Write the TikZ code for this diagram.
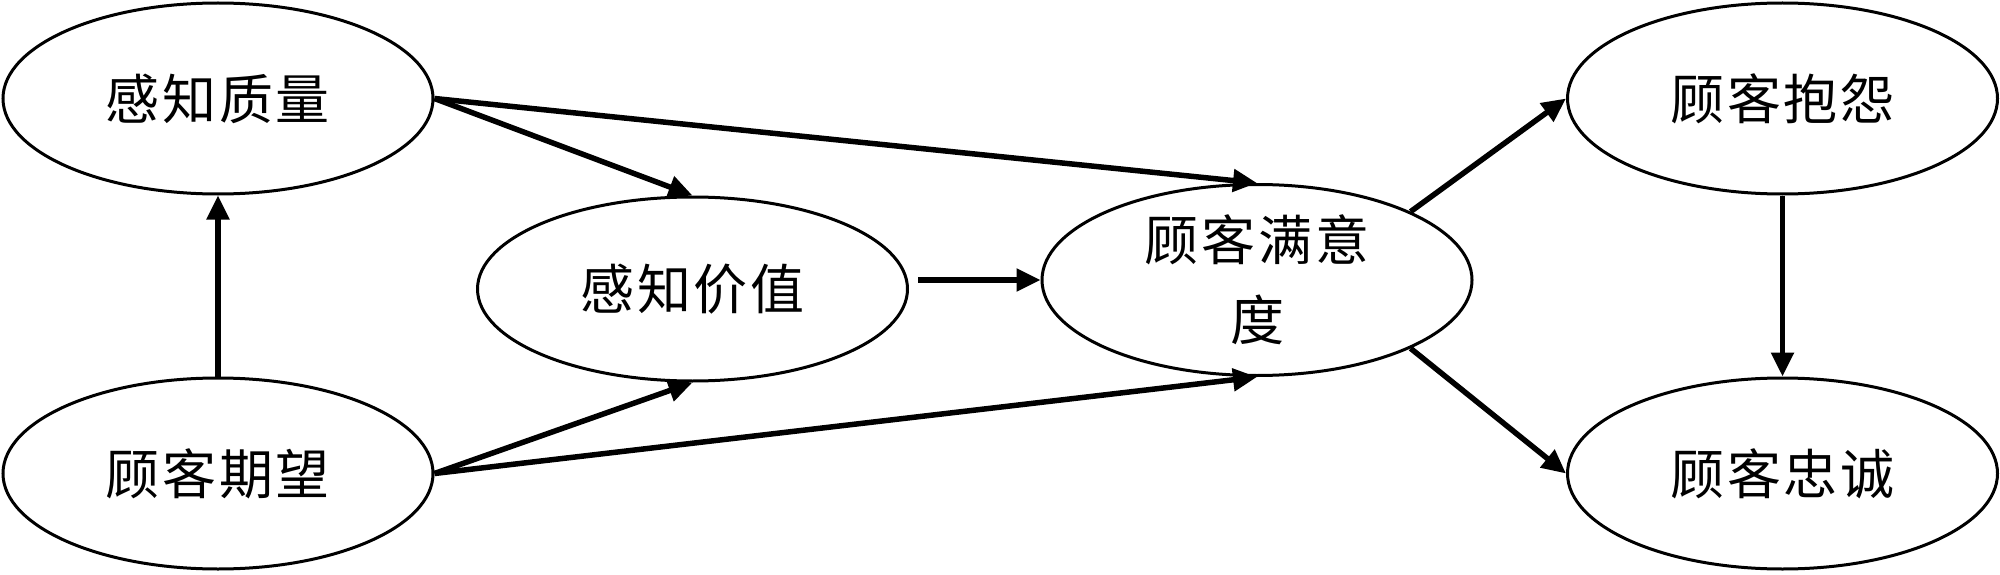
\documentclass[tikz,border=0pt]{standalone}
\usepackage{fontspec}
\newfontfamily\cjk[LetterSpace=5]{Noto Sans CJK SC}
\usetikzlibrary{arrows.meta,shapes.geometric}
\begin{document}
\begin{tikzpicture}[x=1pt,y=-1pt,
  oval/.style={draw,line width=3pt,ellipse,minimum width=430pt,minimum height=191pt,inner sep=0pt,
    font=\cjk\fontsize{54pt}{80pt}\selectfont,align=center},
  arr/.style={line width=5.5pt,-{Triangle[length=24pt,width=22pt]}}]
\useasboundingbox (0,0) rectangle (2000,575);
\node[oval] (kz) at (218,98.5) {感知质量};
\node[oval] (qw) at (218,473.5) {顾客期望};
\node[oval,minimum height=184pt] (kj) at (692.5,289) {感知价值};
\node[oval] (my) at (1257,280) {顾客满意\\度};
\node[oval] (bw) at (1782.5,98.5) {顾客抱怨};
\node[oval] (zc) at (1782.5,473.5) {顾客忠诚};
\coordinate (s) at (918,280);
\draw[arr] (qw.north) -- (kz.south);
\draw[arr] (kz.east) -- (kj.north);
\draw[arr] (kz.east) -- (my.north);
\draw[arr] (qw.east) -- (kj.south);
\draw[arr] (qw.east) -- (my.south);
\draw[arr] (s) -- (my.west);
\draw[arr] (my.24) -- (bw.west);
\draw[arr] (my.-24) -- (zc.west);
\draw[arr] (bw.south) -- (zc.north);
\end{tikzpicture}
\end{document}
